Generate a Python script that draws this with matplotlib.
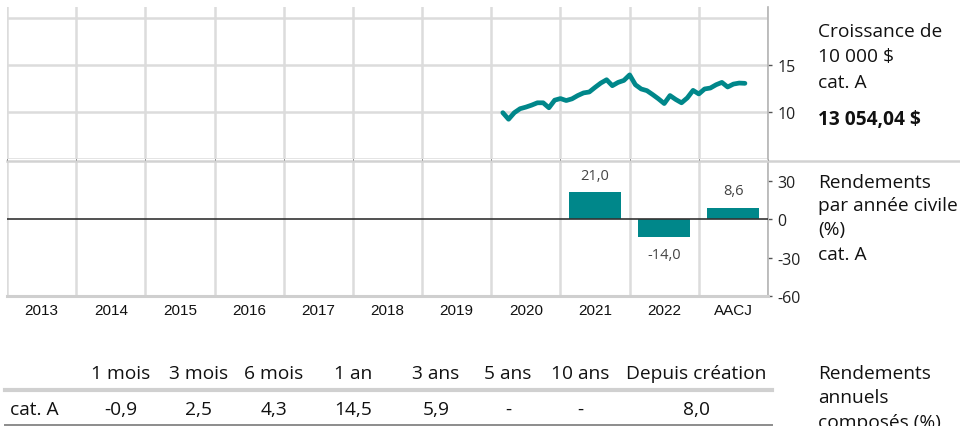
import matplotlib.pyplot as plt
import matplotlib.lines as mlines
import numpy as np
import pandas as pd

# categories on the x axis
years = ["2013", "2014", "2015", "2016", "2017", "2018", "2019", "2020", "2021", "2022", "AACJ"]

# calendar-year returns (%), only the last three have a value
bar_labels = ["2021", "2022", "AACJ"]
bar_values = [21.0, -14.0, 8.6]

# growth of 10 000 $ (thousands), month ends from Feb 2020
growth_start = "2020-02-29"
growth = [9.93, 9.23, 9.93, 10.35, 10.52, 10.73, 10.98, 10.98, 10.45, 11.26, 11.43,
          11.22, 11.40, 11.75, 12.03, 12.13, 12.62, 13.08, 13.43, 12.80, 13.15, 13.36,
          13.95, 12.90, 12.45, 12.27, 11.85, 11.40, 10.90, 11.75, 11.33, 10.98, 11.50,
          12.30, 11.92, 12.45, 12.55, 12.90, 13.15, 12.66, 12.97, 13.08, 13.05]

# compound annual returns table
periods = ["1 mois", "3 mois", "6 mois", "1 an", "3 ans", "5 ans", "10 ans", "Depuis création"]
period_returns = ["-0,9", "2,5", "4,3", "14,5", "5,9", "-", "-", "8,0"]

teal = "#00878A"
body_font = ["Open Sans", "DejaVu Sans"]
year_font = ["Liberation Sans Narrow", "Liberation Sans", "DejaVu Sans"]
plt.rcParams["font.family"] = body_font
plt.rcParams["axes.unicode_minus"] = False
fs = 13.8

W, H = 960, 427
fig = plt.figure(figsize=(W / 100, H / 100), dpi=100)


def fx(px):
    return px / W


def fy(py):
    return 1 - py / H


left, right = 7, 768
ax1 = fig.add_axes([fx(left), fy(160), (right - left) / W, (160 - 8) / H])
ax2 = fig.add_axes([fx(left), fy(297), (right - left) / W, (297 - 163) / H])

xpos = np.arange(len(years))
bounds = np.arange(len(years) + 1) - 0.5

# ---- top panel: growth line
dates = pd.date_range(growth_start, periods=len(growth), freq="ME")
gx = (dates.year - int(years[0])) - 0.5 + dates.month / 12
ax1.plot(gx, growth, color=teal, lw=3.4, solid_joinstyle="round", solid_capstyle="round", zorder=3)
ax1.set_xlim(-0.5, len(years) - 0.5)
ax1.set_ylim(5, 21.17)
ax1.set_yticks([10, 15])
ax1.set_yticks([5, 20], minor=True)
ax1.set_xticks(bounds, minor=True)
ax1.set_xticks([])
ax1.grid(True, which="both", color="#dcdcdc", lw=1.8)
ax1.tick_params(axis="y", which="minor", length=0)

# ---- bottom panel: bars
ax2.set_xlim(-0.5, len(years) - 0.5)
ax2.set_ylim(-60, 44.6)
bx = [years.index(b) for b in bar_labels]
ax2.bar(bx, bar_values, width=0.75, color=teal, zorder=3)
for x, v in zip(bx, bar_values):
    ax2.annotate(f"{v:.1f}".replace(".", ","), (x, v),
                 xytext=(0, 7 if v > 0 else -7), textcoords="offset points",
                 ha="center", va="bottom" if v > 0 else "top",
                 fontsize=10.5, color="#444444")
ax2.axhline(0, color="#333333", lw=1.2, zorder=4)
ax2.set_xticks(bounds, minor=True)
ax2.grid(True, which="minor", axis="x", color="#dcdcdc", lw=1.8)
ax2.set_xticks(xpos)
ax2.set_xticklabels(years, family=year_font, fontsize=11, color="#111111")
ax2.tick_params(axis="x", which="both", length=0, pad=5)
ax2.set_yticks([-60, -30, 0, 30])

for ax in (ax1, ax2):
    ax.set_facecolor("white")
    ax.yaxis.tick_right()
    ax.tick_params(axis="y", which="major", length=3, width=1, color="#555555",
                   pad=4, labelsize=11.5, labelcolor="#222222")
    for s in ("top", "left"):
        ax.spines[s].set_visible(False)
    ax.spines["right"].set_color("#b4b4b4")
    ax.spines["right"].set_linewidth(1.2)
    ax.set_axisbelow(True)

ax1.spines["bottom"].set_visible(False)
ax2.spines["bottom"].set_color("#cfcfcf")
ax2.spines["bottom"].set_linewidth(2.2)

# separator between panels, running to the right edge
fig.add_artist(mlines.Line2D([fx(left), 1], [fy(161.5), fy(161.5)], color="#d2d2d2", lw=1.8))

# ---- right-hand captions
tx = fx(818)
ink = "#111111"
fig.text(tx, fy(32), "Croissance de", fontsize=fs, va="center", color=ink)
fig.text(tx, fy(57), "10 000 $", fontsize=fs, va="center", color=ink)
fig.text(tx, fy(83), "cat. A", fontsize=fs, va="center", color=ink)
fig.text(tx, fy(120), "13 054,04 $", fontsize=fs, va="center", weight="bold", color=ink)

fig.text(tx, fy(183), "Rendements", fontsize=fs, va="center", color=ink)
fig.text(tx, fy(206), "par année civile", fontsize=fs, va="center", color=ink)
fig.text(tx, fy(230), "(%)", fontsize=fs, va="center", color=ink)
fig.text(tx, fy(255), "cat. A", fontsize=fs, va="center", color=ink)

fig.text(tx, fy(374), "Rendements", fontsize=fs, va="center", color=ink)
fig.text(tx, fy(398), "annuels", fontsize=fs, va="center", color=ink)
fig.text(tx, fy(423), "composés (%)", fontsize=fs, va="center", color=ink)

# ---- table
col_x = [121, 199, 274, 353, 436, 508, 580, 696]
for cx, head, val in zip(col_x, periods, period_returns):
    fig.text(fx(cx), fy(374), head, fontsize=fs, ha="center", va="center", color=ink)
    fig.text(fx(cx), fy(410), val, fontsize=fs, ha="center", va="center", color=ink)
fig.text(fx(10), fy(410), "cat. A", fontsize=fs, va="center", color=ink)
fig.add_artist(mlines.Line2D([fx(5), fx(772)], [fy(391), fy(391)], color="#d0d0d0", lw=3))
fig.add_artist(mlines.Line2D([fx(5), fx(772)], [fy(425.5), fy(425.5)], color="#8c8c8c", lw=1.4))

fig.savefig("out.png", dpi=100, facecolor="white")
